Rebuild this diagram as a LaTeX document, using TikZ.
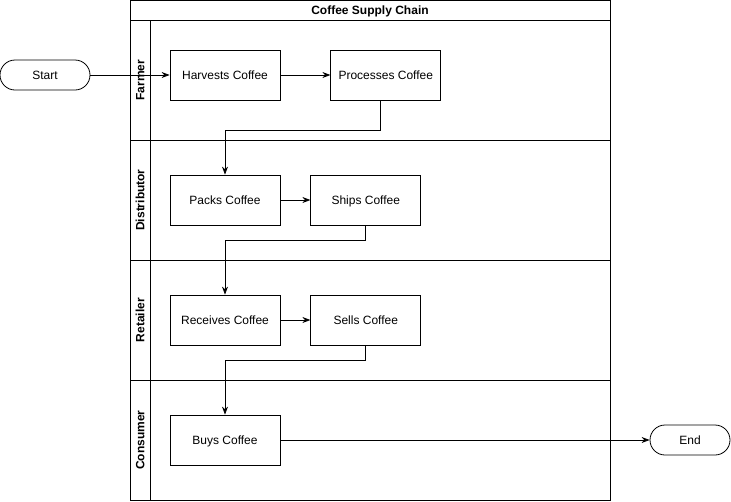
\documentclass[tikz,border=0pt]{standalone}
\usepackage{fontspec}
\setmainfont{Liberation Sans}
\usetikzlibrary{positioning}
\usetikzlibrary{arrows.meta}
\tikzset{
  task/.style={draw, minimum width=110pt, minimum height=50pt, inner sep=0pt,
    text height=8.6pt, text depth=0pt},
  terminal/.style={draw, rounded corners=15pt, minimum height=30pt, inner sep=0pt,
    text height=8.6pt, text depth=0pt},
  lanelabel/.style={rotate=90, font=\fontsize{12}{14}\selectfont\bfseries,
    text height=8.6pt, text depth=0pt}
}

\begin{document}
\begin{tikzpicture}[x=1pt, y=-1pt, node distance=50pt, line width=0.8pt,
    font=\fontsize{12}{14}\selectfont, >={Stealth[length=8pt, width=6pt]}]
      \useasboundingbox (0,0) rectangle (731,501);
      % pool and lanes
      \draw (130,0) rectangle (610,500);
      \draw (130,20) -- (610,20);
      \draw (150,20) -- (150,500);
      \foreach \y in {140,260,380} \draw (130,\y) -- (610,\y);
      \node(title) [font=\fontsize{12}{14}\selectfont\bfseries, text height=8.6pt, text depth=0pt] at (370,10) {Coffee Supply Chain};
      \node(farmer) [lanelabel] at (140,80) {Farmer};
      \node(distributor) [lanelabel] at (140,200) {Distributor};
      \node(retailer) [lanelabel] at (140,320) {Retailer};
      \node(consumer) [lanelabel] at (140,440) {Consumer};

      \node(start) [terminal, minimum width=90pt] at (45,75) {Start};
      \node(harvest) [task] at (225,75) {Harvests Coffee};
      \node(process) [task, right=50pt of harvest] {Processes Coffee};
      \node(packs) [task] at (225,200) {Packs Coffee};
      \node(ships) [task, right=30pt of packs] {Ships Coffee};
      \node(receives) [task] at (225,320) {Receives Coffee};
      \node(sells) [task, right=30pt of receives] {Sells Coffee};
      \node(buys) [task] at (225,440) {Buys Coffee};
      \node(end) [terminal, minimum width=80pt] at (690,440) {End};

      \draw[->] (start) -- (harvest);
      \draw[->] (harvest) -- (process);
      \draw[->] ([xshift=-5pt]process.south) -- ++(0,30) -| (packs.north);
      \draw[->] (packs) -- (ships);
      \draw[->] (ships.south) -- ++(0,15) -| (receives.north);
      \draw[->] (receives) -- (sells);
      \draw[->] (sells.south) -- ++(0,15) -| (buys.north);
      \draw[->] (buys) -- (end);
    \end{tikzpicture}
\end{document}
